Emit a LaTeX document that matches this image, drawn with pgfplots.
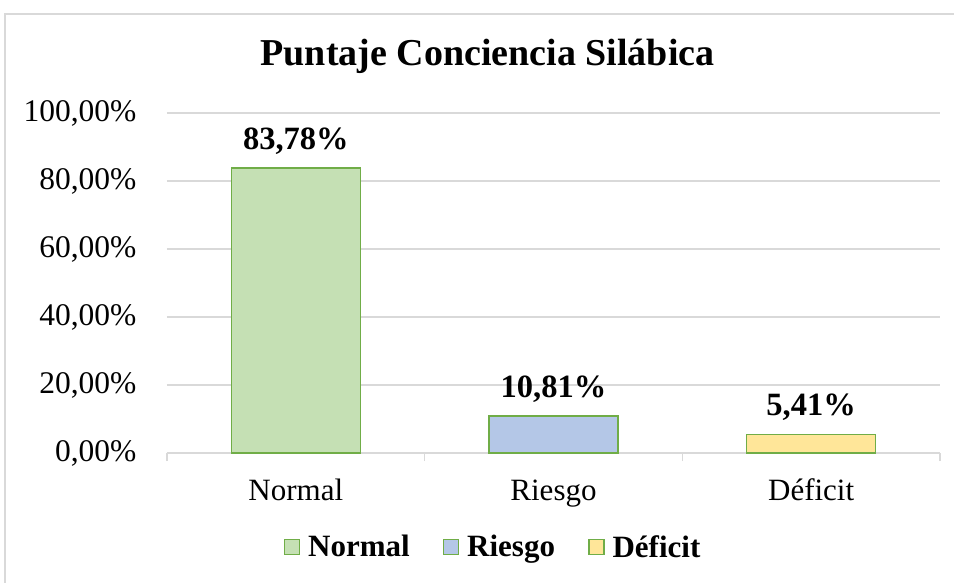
\documentclass[border=0pt]{standalone}
\usepackage{pgfplots}
\pgfplotsset{compat=1.18}
\usepackage{fontspec}
\setmainfont{Liberation Serif}
\definecolor{gridc}{HTML}{D9D9D9}
\definecolor{edgec}{HTML}{70AD47}
\definecolor{fgreen}{HTML}{C5E0B4}
\definecolor{fblue}{HTML}{B4C7E7}
\definecolor{fyellow}{HTML}{FFE699}
\pgfplotsset{mybar/.style={ybar, bar width=129pt, bar shift=0pt, draw=edgec, line width=1.5pt, forget plot}}
\begin{document}
\begin{tikzpicture}[x=1pt,y=1pt]
\path[use as bounding box] (0,0) rectangle (954,582);
\draw[gridc, line width=1.5pt] (5,-20) -- (5,568) -- (990,568);
\begin{axis}[
  at={(167pt,129pt)}, anchor=south west,
  scale only axis, width=773pt, height=340pt,
  xmin=-0.5, xmax=2.5, ymin=0, ymax=100,
  axis y line*=left, axis x line*=bottom,
  y axis line style={draw=none},
  x axis line style={draw=gridc, line width=1.5pt, -},
  ytick={0,20,40,60,80,100},
  yticklabels={{0,00\%},{20,00\%},{40,00\%},{60,00\%},{80,00\%},{100,00\%}},
  ytick style={draw=none},
  ymajorgrids, grid style={draw=gridc, line width=1.5pt},
  xtick={-0.5,0.5,1.5,2.5}, xticklabels={},
  major tick length=8pt, tick align=outside,
  xtick style={draw=gridc, line width=1.5pt},
  extra x ticks={0,1,2}, extra x tick labels={Normal,Riesgo,Déficit},
  extra x tick style={grid=none, major tick length=0pt, xtick style={draw=none},
     xticklabel style={font=\fontsize{31}{31}\selectfont, anchor=base, yshift=-47pt}},
  yticklabel style={font=\fontsize{31.5}{31.5}\selectfont, anchor=east, xshift=-19pt},
  title={\textbf{Puntaje Conciencia Silábica}},
  title style={at={(0.4146,1.1206)}, anchor=base, font=\fontsize{38}{38}\selectfont},
  nodes near coords,
  point meta=explicit symbolic,
  every node near coord/.append style={font=\bfseries\fontsize{32.5}{32.5}\selectfont, yshift=10pt},
  legend style={at={(0.4217,-0.276)}, anchor=center, draw=none, fill=none,
     font=\bfseries\fontsize{31}{31}\selectfont,
     /tikz/every odd column/.append style={column sep=6pt},
     /tikz/every even column/.append style={column sep=31pt}},
  legend columns=3,
]
\addplot[mybar, fill=fgreen]
  coordinates {(0,83.78) [83,78\%]};
\addplot[mybar, fill=fblue]
  coordinates {(1,10.81) [10,81\%]};
\addplot[mybar, fill=fyellow]
  coordinates {(2,5.41) [5,41\%]};
\addlegendimage{legend image code/.code={\draw[fill=fgreen, draw=edgec, line width=1.5pt] (0pt,-7.5pt) rectangle (15pt,7.5pt);}}
\addlegendentry{Normal}
\addlegendimage{legend image code/.code={\draw[fill=fblue, draw=edgec, line width=1.5pt] (0pt,-7.5pt) rectangle (15pt,7.5pt);}}
\addlegendentry{Riesgo}
\addlegendimage{legend image code/.code={\draw[fill=fyellow, draw=edgec, line width=1.5pt] (0pt,-7.5pt) rectangle (15pt,7.5pt);}}
\addlegendentry{Déficit}
\end{axis}
\end{tikzpicture}
\end{document}
